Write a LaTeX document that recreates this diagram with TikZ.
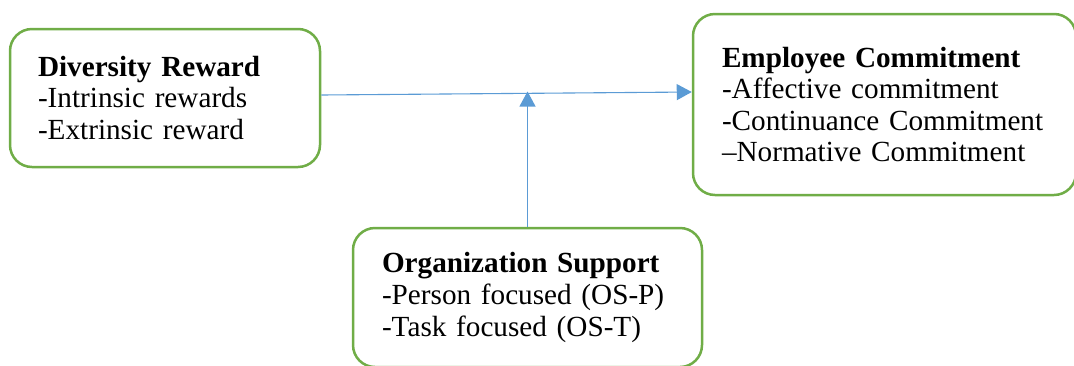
\documentclass[tikz,border=0pt]{standalone}
\usepackage{fontspec}
\setmainfont{Liberation Serif}
\usepackage{tikz}
\usetikzlibrary{arrows.meta,positioning}
\definecolor{boxgreen}{RGB}{112,173,71}
\definecolor{arrowblue}{RGB}{91,155,213}

\begin{document}
\begin{tikzpicture}[
  x=0.5pt,y=-0.5pt,
  box/.style={draw=boxgreen,line width=1.25pt,rounded corners=11pt,fill=white,
    align=left,inner ysep=0pt,font=\fontsize{14.6}{15.8}\selectfont},
  arrow/.style={-{Triangle[length=7.5pt,width=8pt]},line width=0.55pt,draw=arrowblue}]
  \useasboundingbox (0,0) rectangle (1074,365);
  \node[box,inner xsep=14pt,text width=127pt,minimum height=69pt] (reward) at (165,98)
    {\textbf{Diversity Reward}\\-Intrinsic rewards\\-Extrinsic reward};
  \node[box,inner xsep=14.5pt,text width=162.5pt,minimum height=90.5pt] (commit) at (884.5,104.5)
    {\textbf{Employee Commitment}\\-Affective commitment\\-Continuance Commitment\\–Normative Commitment};
  \node[box,inner xsep=14.5pt,text width=145.5pt,minimum height=69.5pt] (support) at (527.5,297.5)
    {\textbf{Organization Support}\\-Person focused (OS-P)\\-Task focused (OS-T)};
  \coordinate (join) at (527.5,91.5);
  \draw[arrow] ([yshift=1.5pt]reward.east)--([yshift=6.25pt]commit.west);
  \draw[arrow] (support.north)--(join);
\end{tikzpicture}
\end{document}
